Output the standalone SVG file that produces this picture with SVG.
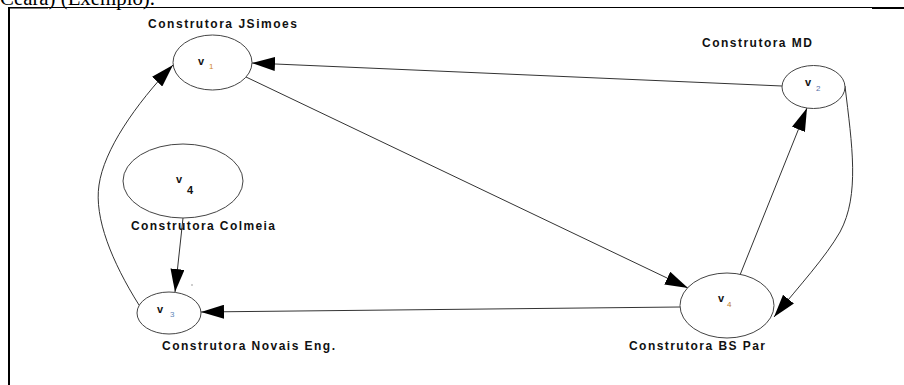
<svg xmlns="http://www.w3.org/2000/svg" width="904" height="385" viewBox="0 0 904 385">
  <style>
    .frame { stroke: #000; fill: none; }
    .node ellipse { fill: #fff; stroke: #444; stroke-width: 1; }
    .name { font-family: "Liberation Sans", Arial, sans-serif; font-weight: bold; font-size: 12px; fill: #111; }
    .v { font-family: "Liberation Sans", Arial, sans-serif; font-weight: bold; font-size: 11px; fill: #111; }
    .sub { font-family: "Liberation Sans", Arial, sans-serif; font-size: 8px; }
    .edge { stroke: #333; stroke-width: 1; fill: none; marker-end: url(#arrow); }
    .caption { font-family: "Liberation Serif", "Times New Roman", serif; font-size: 20px; fill: #000; }
  </style>
  <defs>
    <marker id="arrow" markerUnits="userSpaceOnUse" markerWidth="24" markerHeight="14" refX="23" refY="7" orient="auto">
      <path d="M0,0 L23,7 L0,14 z" fill="#000"/>
    </marker>
  </defs>

  <rect width="904" height="385" fill="#fff"/>

  <!-- caption line above the figure, clipped by the page edge -->
  <text class="caption" x="0" y="5" textLength="155" lengthAdjust="spacingAndGlyphs">Ceará) (Exemplo).</text>

  <!-- figure frame -->
  <g id="frame">
    <line class="frame" x1="8" y1="7.5" x2="904" y2="7.5" stroke-width="1"/>
    <line class="frame" x1="8" y1="7.8" x2="48" y2="7.8" stroke-width="1.6"/>
    <line class="frame" x1="872" y1="8" x2="904" y2="8" stroke-width="2"/>
    <line class="frame" x1="9" y1="7" x2="9" y2="385" stroke-width="2"/>
  </g>

  <!-- connectors -->
  <g id="edges">
    <!-- v2 -> v1 -->
    <path class="edge" d="M782,86 L252,63"/>
    <!-- v1 -> v4 (BS Par) -->
    <path class="edge" d="M246,77 L688,288"/>
    <!-- v4 (BS Par) -> v2 -->
    <path class="edge" d="M740,275 L807,108"/>
    <!-- v2 -> v4 (BS Par), curved -->
    <path class="edge" d="M845,86 C852,145 860,195 840,232 C825,258 800,285 774,317"/>
    <!-- v4 (BS Par) -> v3 -->
    <path class="edge" d="M680,307 L201,312"/>
    <!-- v3 -> v1, curved -->
    <path class="edge" d="M139,305 C112,262 94,218 99,185 C104,150 135,105 173,65"/>
    <!-- v4 (Colmeia) -> v3 -->
    <path class="edge" d="M183,218 L175,292"/>
  </g>

  <!-- nodes -->
  <g id="node-v1" class="node">
    <ellipse cx="212.5" cy="62.5" rx="39.5" ry="27.5"/>
    <text class="v" x="198" y="65">v</text>
    <text class="sub" x="209" y="69" fill="#d08a2a">1</text>
    <text class="name" x="148" y="28" textLength="149" lengthAdjust="spacing">Construtora JSimoes</text>
  </g>

  <g id="node-v2" class="node">
    <ellipse cx="813.5" cy="87" rx="31.5" ry="21.5"/>
    <text class="v" x="805" y="86">v</text>
    <text class="sub" x="816" y="91" fill="#5670a8">2</text>
    <text class="name" x="702" y="47" textLength="110" lengthAdjust="spacing">Construtora MD</text>
  </g>

  <g id="node-v4-colmeia" class="node">
    <ellipse cx="183" cy="181" rx="60" ry="37"/>
    <text class="v" x="176" y="183">v</text>
    <text class="v" x="187" y="194" font-size="12">4</text>
    <text class="name" x="131" y="230" textLength="144" lengthAdjust="spacing">Construtora Colmeia</text>
  </g>

  <g id="node-v3" class="node">
    <ellipse cx="169" cy="313" rx="32" ry="21"/>
    <text class="v" x="157" y="313">v</text>
    <text class="sub" x="170" y="317" fill="#5f86b8">3</text>
    <text class="name" x="162" y="350" textLength="173" lengthAdjust="spacing">Construtora Novais Eng.</text>
    <circle cx="192" cy="285" r="0.7" fill="#777"/>
  </g>

  <g id="node-v4-bspar" class="node">
    <ellipse cx="727" cy="305.5" rx="47" ry="32.5"/>
    <text class="v" x="718" y="302">v</text>
    <text class="sub" x="727" y="307" fill="#c07a30">4</text>
    <text class="name" x="629" y="350" textLength="136" lengthAdjust="spacing">Construtora BS Par</text>
  </g>
</svg>
